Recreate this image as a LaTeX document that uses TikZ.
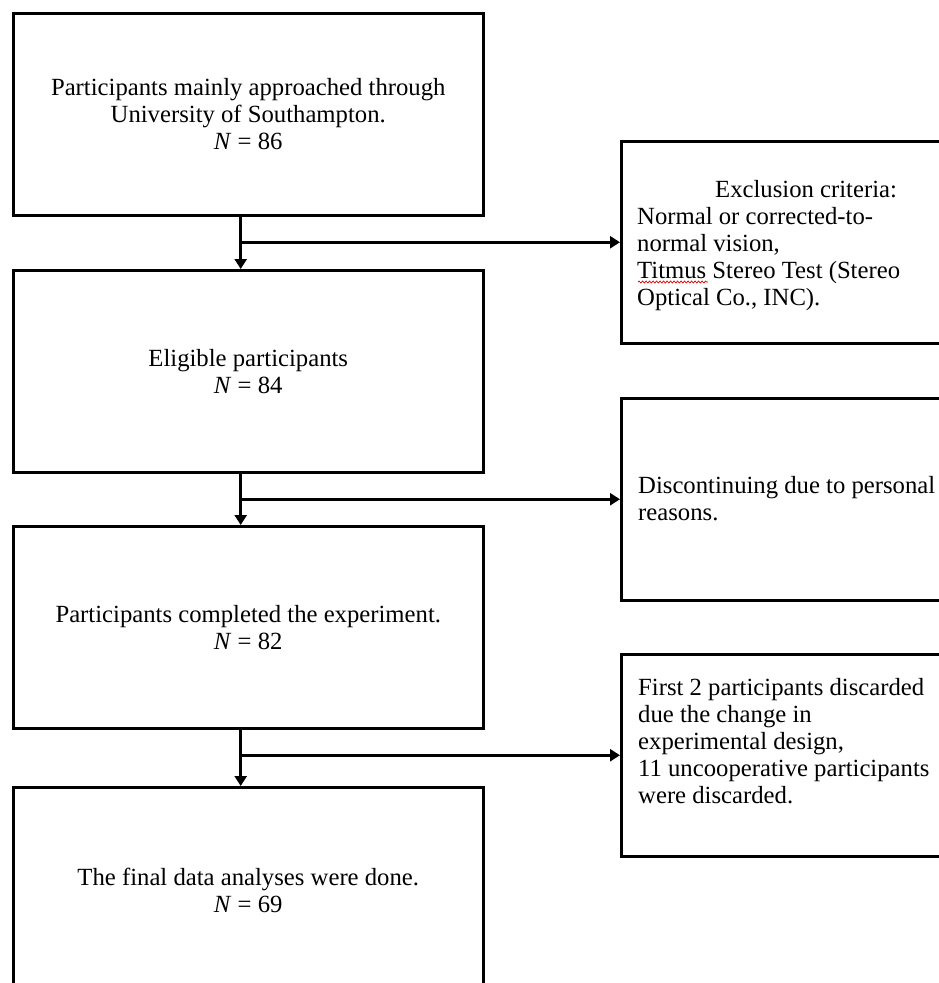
\documentclass[tikz,border=0pt]{standalone}
\usepackage{fontspec}
\setmainfont{Liberation Serif}
\usetikzlibrary{arrows.meta,decorations.pathmorphing}
\begin{document}
\begin{tikzpicture}[x=1pt,y=-1pt,
  txt/.style={font=\fontsize{24.7}{27}\selectfont},
  mainbox/.style={draw, line width=2.5pt, minimum width=470pt, minimum height=202pt,
    anchor=north west, align=center, inner sep=0pt, txt},
  sidebox/.style={draw, line width=2.5pt, minimum width=380pt, minimum height=202pt,
    anchor=north west, inner sep=0pt},
  sidetext/.style={anchor=north west, align=left, inner sep=0pt, txt},
  arr/.style={line width=3.4pt, -{Triangle[width=12pt,length=10pt]}},
  squig/.style={draw=red!85!black, line width=0.7pt, decorate,
    decoration={snake, amplitude=1pt, segment length=3.5pt}}]
\useasboundingbox (0,0) rectangle (939,983);
\clip (0,0) rectangle (939,983);

% main column
\node[mainbox] (B1) at (12,12) {Participants mainly approached through\\University of Southampton.\\\textit{N} = 86};
\node[mainbox] (B2) at (12,269) {Eligible participants\\\textit{N} = 84};
\node[mainbox] (B3) at (12,525) {Participants completed the experiment.\\\textit{N} = 82};
\node[mainbox, minimum height=206pt] (B4) at (12,786) {The final data analyses were done.\\\textit{N} = 69};

% side boxes
\node[sidebox] (R1) at (620,140) {};
\node[sidebox] (R2) at (620,397) {};
\node[sidebox] (R3) at (620,653) {};

\node[sidetext] (T1) at (637,180) {\hspace*{78pt}Exclusion criteria:\\Normal or corrected-to-\\normal vision,\\Titmus Stereo Test (Stereo\\Optical Co., INC).};
\node[sidetext] (T2) at (638,476) {Discontinuing due to personal\\reasons.};
\node[sidetext] (T3) at (638,678) {First 2 participants discarded\\due the change in\\experimental design,\\11 uncooperative participants\\were discarded.};

\draw[squig] (638,282) -- (708,282);

% connectors
\coordinate (xa) at (240.7,0);
\draw[arr] (B1.south -| xa) -- (B2.north -| xa);
\draw[arr] (B2.south -| xa) -- (B3.north -| xa);
\draw[arr] (B3.south -| xa) -- (B4.north -| xa);
\draw[arr] (xa |- R1.west) -- (R1.west);
\draw[arr] (xa |- R2.west) -- (R2.west);
\draw[arr] (xa |- R3.west) -- (R3.west);
\end{tikzpicture}
\end{document}
